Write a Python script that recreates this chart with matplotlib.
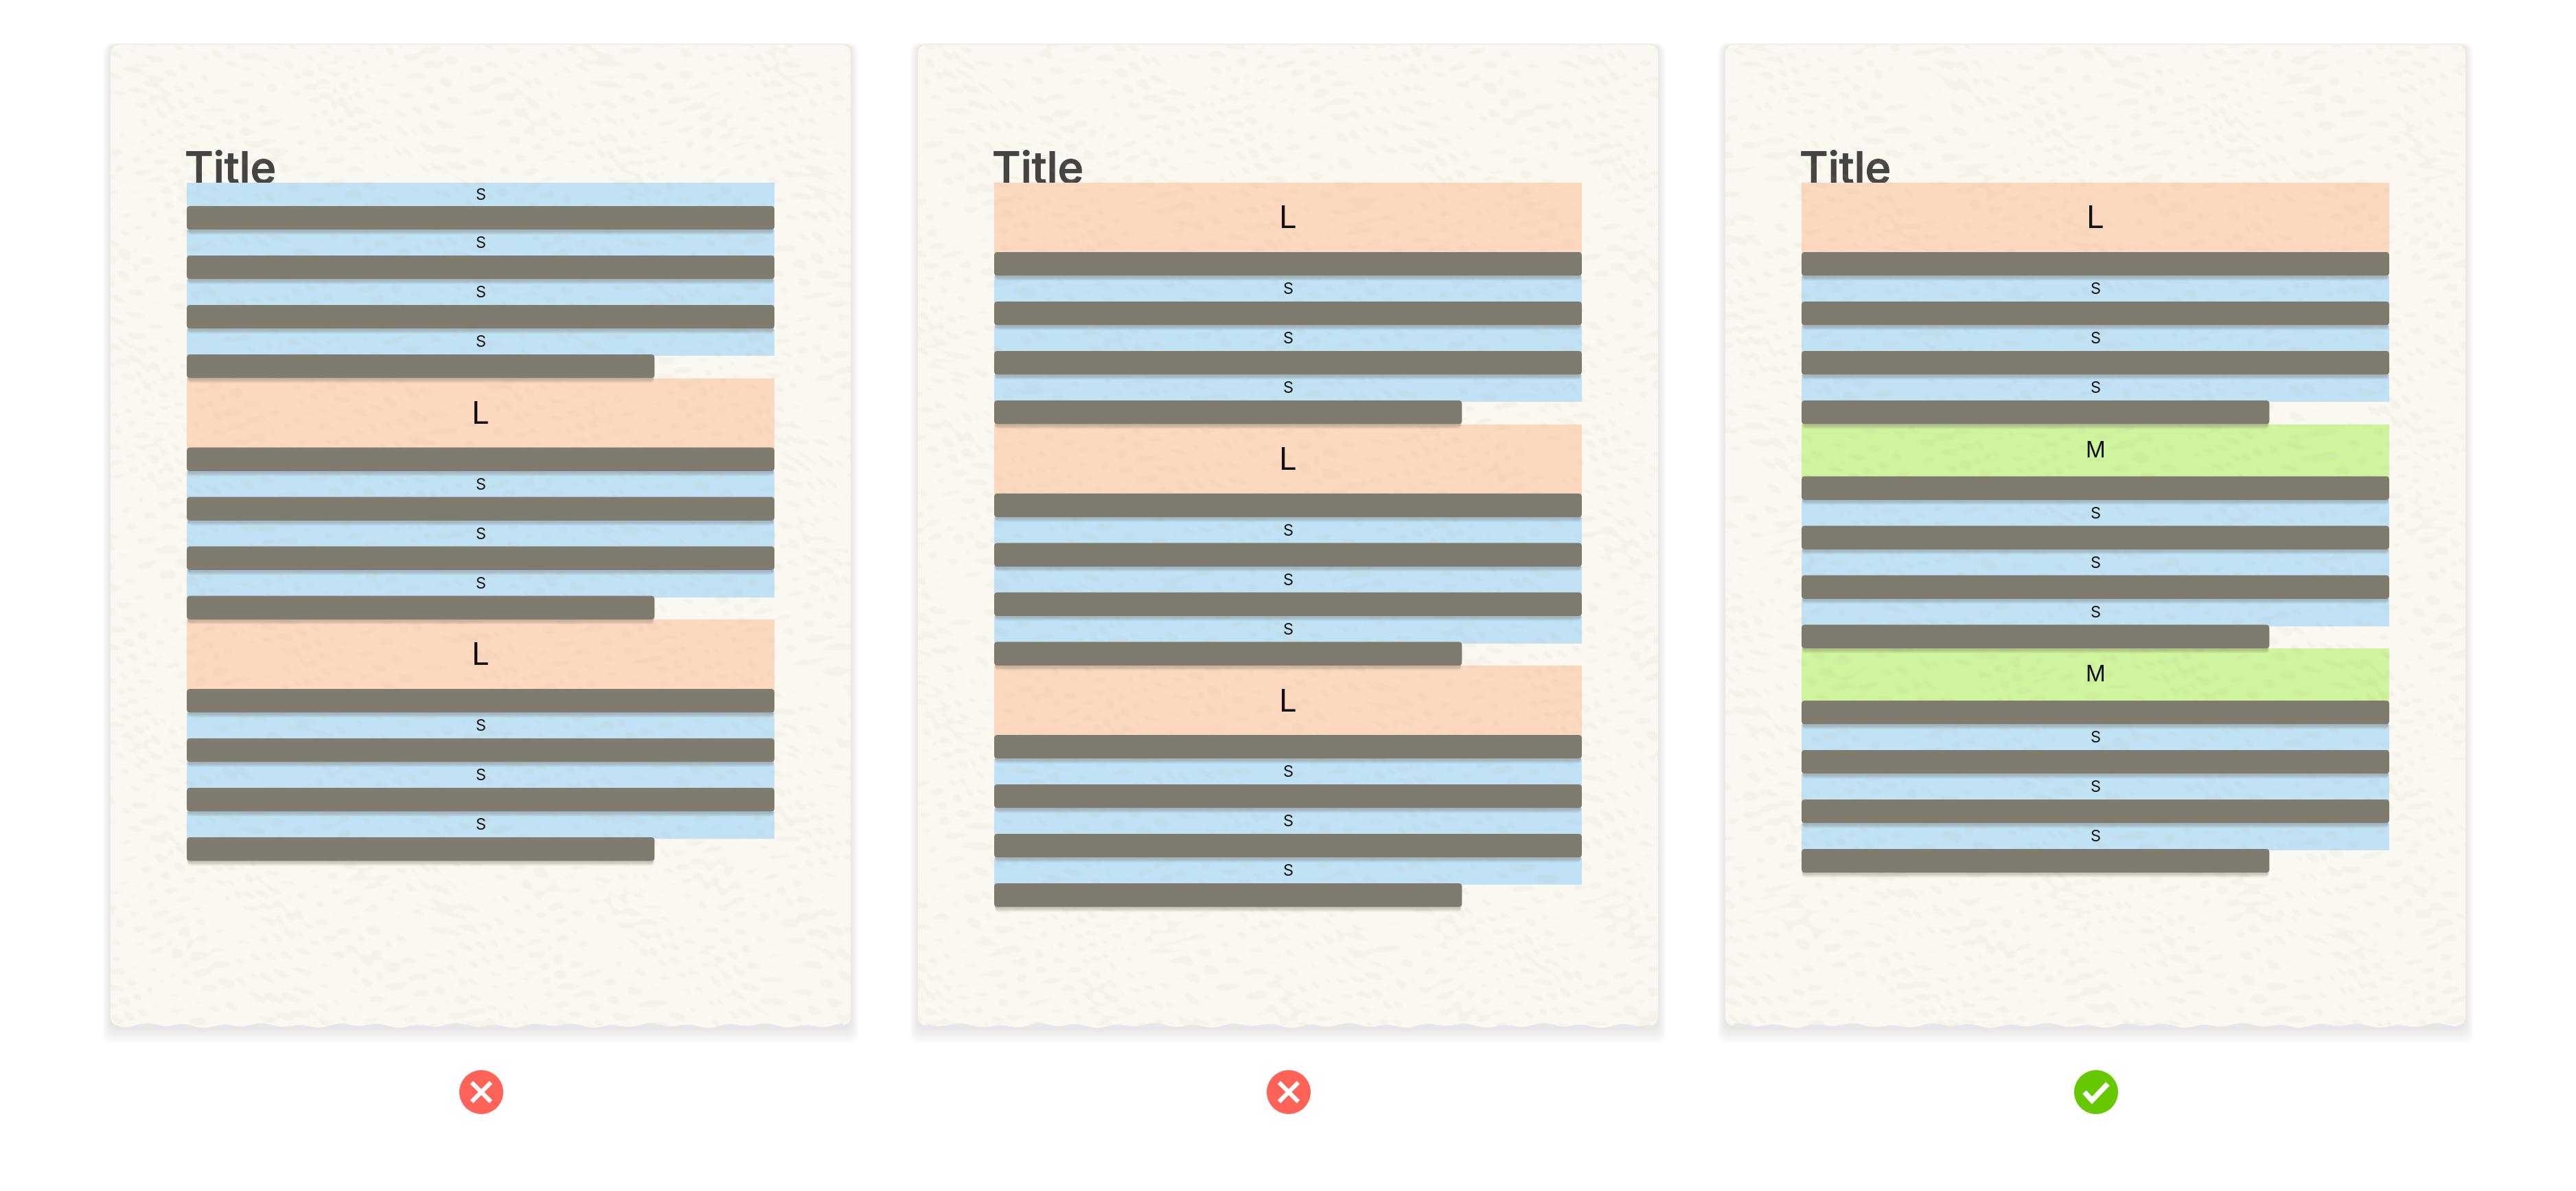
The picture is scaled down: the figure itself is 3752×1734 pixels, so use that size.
import numpy as np
import matplotlib
matplotlib.use("Agg")
import matplotlib.pyplot as plt
import matplotlib.patheffects as pe
from matplotlib.patches import FancyBboxPatch, Circle, Polygon

plt.rcParams['font.family'] = ['Inter', 'DejaVu Sans']

# blocks of each page, from top to bottom, a text line follows every block
page_a = ["S", "S", "S", "S", "L", "S", "S", "S", "L", "S", "S", "S"]
page_b = ["L", "S", "S", "S", "L", "S", "S", "S", "L", "S", "S", "S"]
page_c = ["L", "S", "S", "S", "M", "S", "S", "S", "M", "S", "S", "S"]
page_ok = [False, False, True]
page_title = "Title"

# block heights and colours
block_height = {"S": 37.5, "M": 76, "L": 101}
block_color = {"S": "#C1E1F4", "M": "#D0F39D", "L": "#FCD9BE"}
label_size = {"S": 17, "M": 23, "L": 33}
label_shift = {"S": 2, "M": 2, "L": 4}
line_height = 34.5
short_line = 0.796

card_w = 1078
card_h = 1428
card_top = 65
card_step = 1176
card_left = 161
col_offset = 111
col_w = 856
col_top = 266


def card_outline(x0):
    # straight top and sides, torn looking bottom edge
    x1 = x0 + card_w
    y0 = card_top
    y1 = card_top + card_h
    r = 12
    a = np.linspace(0, np.pi / 2, 8)
    pts = []
    pts += [(x0 + r - r * np.cos(t), y0 + r - r * np.sin(t)) for t in a]
    pts += [(x1 - r + r * np.sin(t), y0 + r - r * np.cos(t)) for t in a]
    pts += [(x1 - r + r * np.cos(t), y1 - r + r * np.sin(t)) for t in a]
    xs = np.arange(x1 - r, x0 + r, -4)
    ys = y1 + 2.0 * np.sin(xs / 9.0) + 1.5 * np.sin(xs / 23.0 + 1)
    pts += list(zip(xs, ys))
    pts += [(x0 + r - r * np.sin(t), y1 - r + r * np.cos(t)) for t in a]
    return pts


def paper_flecks(x0):
    # deterministic wavy pattern, only used as a faint paper grain
    yy, xx = np.mgrid[card_top:card_top + card_h:2, x0:x0 + card_w:2].astype(float)
    u = xx * 0.8 + yy * 0.6 + 14 * np.sin(yy * 0.017 + xx * 0.009)
    v = -xx * 0.45 + yy * 0.9 + 11 * np.sin(xx * 0.021 - yy * 0.013)
    w = np.sin(u * 0.09 + 2.6 * np.sin(v * 0.041)) * np.sin(v * 0.29 + 2.1 * np.sin(u * 0.057))
    w = w + 0.55 * np.sin(u * 0.19 + v * 0.13 + 1.9 * np.sin(xx * 0.023 + 1))
    w = w + 0.45 * np.sin(xx * 0.011 + yy * 0.017) * np.sin(xx * 0.037 - yy * 0.029)
    rgba = np.zeros(w.shape + (4,))
    rgba[..., :3] = matplotlib.colors.to_rgb("#B5B19C")
    rgba[..., 3] = np.clip((w - 0.5) * 0.25, 0, 0.08)
    return rgba


def draw_page(ax, x0, blocks, ok):
    outline = card_outline(x0)

    # soft shadow around the card
    for grow in range(24, 0, -2):
        ax.add_patch(FancyBboxPatch((x0 - grow * 0.5, card_top - grow * 0.1), card_w + grow, card_h + grow * 1.1 + 4,
                                    boxstyle="round,pad=0,rounding_size=16", fc="#000000", ec="none",
                                    alpha=0.006, zorder=1))
    card = Polygon(outline, closed=True, fc="#FBF8F1", ec="none", zorder=2)
    ax.add_patch(card)

    col_x = x0 + col_offset
    ax.text(col_x - 3, col_top + 1, page_title, fontsize=46, fontweight=500, color="#444442",
            ha="left", va="baseline", zorder=3,
            path_effects=[pe.withStroke(linewidth=0.8, foreground="#444442")])

    y = col_top
    for i, b in enumerate(blocks):
        h = block_height[b]
        # the very first small block of a page sits a little tighter under the title
        if i == 0 and b == "S":
            h = h - 3.5
        ax.barh(y, col_w, height=h + 2, left=col_x, align="edge", color=block_color[b], zorder=4)
        ax.text(col_x + col_w / 2, y + h / 2 + label_shift[b], b, fontsize=label_size[b], color="#111111",
                ha="center", va="center", zorder=6)
        y += h

        # last line of a paragraph is shorter
        last = i == len(blocks) - 1 or blocks[i + 1] != "S"
        w = col_w * short_line if last else col_w
        for k in range(5, 0, -1):
            ax.add_patch(FancyBboxPatch((col_x + 1, y + 2), w - 2, line_height + k * 1.0,
                                        boxstyle="round,pad=0,rounding_size=5", fc="#3F3D33", ec="none",
                                        alpha=0.05, zorder=7))
        ax.add_patch(FancyBboxPatch((col_x, y), w, line_height,
                                    boxstyle="round,pad=0,rounding_size=5", fc="#7F7B6F", ec="none", zorder=8))
        y += line_height

    # paper grain goes over the blocks, under the text lines
    im = ax.imshow(paper_flecks(x0), extent=(x0, x0 + card_w, card_top + card_h, card_top),
                   interpolation="bilinear", zorder=5, aspect="auto")
    im.set_clip_path(card)

    # verdict mark under the page
    cx = x0 + card_w / 2 + 1
    cy = 1590
    ax.add_patch(Circle((cx, cy), 32, fc="#66C800" if ok else "#FF6257", ec="none", zorder=3))
    if ok:
        ax.plot([cx - 17, cx - 6, cx + 17], [cy + 0, cy + 12, cy - 12], color="white", lw=5.5,
                solid_capstyle="butt", solid_joinstyle="miter", zorder=4)
    else:
        ax.plot([cx - 14, cx + 14], [cy - 14, cy + 14], color="white", lw=4.5, solid_capstyle="butt", zorder=4)
        ax.plot([cx - 14, cx + 14], [cy + 14, cy - 14], color="white", lw=4.5, solid_capstyle="butt", zorder=4)


fig = plt.figure(figsize=(37.52, 17.34), dpi=100, facecolor="white")
ax = fig.add_axes([0, 0, 1, 1])

for n, (blocks, ok) in enumerate(zip([page_a, page_b, page_c], page_ok)):
    draw_page(ax, card_left + n * card_step, blocks, ok)

ax.set_xlim(0, 3752)
ax.set_ylim(1734, 0)
ax.axis("off")

fig.savefig("out.png", dpi=100, facecolor="white")
